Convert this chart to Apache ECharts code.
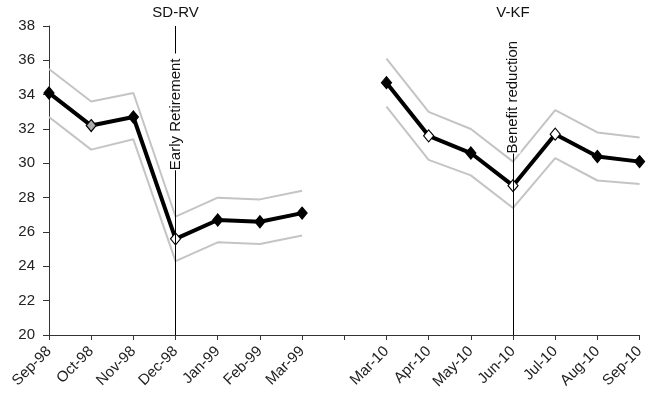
<!DOCTYPE html>
<html><head><meta charset="utf-8">
<script src="https://cdn.jsdelivr.net/npm/echarts@6/dist/echarts.min.js"></script>
<style>html,body{margin:0;padding:0;background:#fff}#c{width:647px;height:400px}</style>
</head><body><div id="c"></div>
<script>
const categories = ['Sep-98','Oct-98','Nov-98','Dec-98','Jan-99','Feb-99','Mar-99','','Mar-10','Apr-10','May-10','Jun-10','Jul-10','Aug-10','Sep-10'];
const mainValues  = [34.1,32.2,32.7,25.6,26.7,26.6,27.1,'-',34.7,31.6,30.6,28.7,31.7,30.4,30.1];
const upperValues = [35.5,33.6,34.1,26.9,28.0,27.9,28.4,'-',36.1,33.0,32.0,30.1,33.1,31.8,31.5];
const lowerValues = [32.7,30.8,31.4,24.3,25.4,25.3,25.8,'-',33.3,30.2,29.3,27.4,30.3,29.0,28.8];
const markerFill  = ['#000','#aaa','#000','#fff','#000','#000','#000',null,'#000','#fff','#000','#fff','#fff','#000','#000'];
const yMin = 20, yMax = 38, yInterval = 2;
// annotations
const eventCats   = ['Dec-98','Jun-10'];
const eventTexts  = ['Early Retirement','Benefit reduction'];
const groupTitles = ['SD-RV','V-KF'];
const eventLineTop = [38, 30.6];
const eventTextY   = [33.0, 34.0];
const titleY = 38;

const FONT = 'Liberation Sans, Arial, sans-serif';
const chart = echarts.init(document.getElementById('c'), null, {renderer:'canvas'});

const mainData = mainValues.map((v,i) => v === '-' ? '-' : {
  value: v,
  itemStyle: {color: markerFill[i], borderColor:'#000', borderWidth:1.2}
});

const markLineData = eventCats.map((c,i) => [
  {coord:[c, yMin]}, {coord:[c, eventLineTop[i]]}
]);
const markPointData = [];
eventCats.forEach((c,i) => {
  markPointData.push({
    coord:[c, eventTextY[i]], symbolSize:0,
    label:{show:true, formatter:eventTexts[i], position:'inside', rotate:90,
      fontSize:15, fontFamily:FONT, color:'#111', backgroundColor:'#fff',
      padding:[0,5,0,0], align:'center', verticalAlign:'middle'}
  });
  markPointData.push({
    coord:[c, titleY], symbolSize:0,
    label:{show:true, formatter:groupTitles[i], position:'top', distance:6,
      fontSize:15, fontFamily:FONT, color:'#111'}
  });
});

const option = {
  animation:false,
  backgroundColor:'#fff',
  grid:{left:49, right:2, top:26, bottom:65, containLabel:false},
  xAxis:{
    type:'category', data:categories, boundaryGap:false,
    axisLine:{lineStyle:{color:'#333', width:1}},
    axisTick:{show:true, length:5, interval:0, lineStyle:{color:'#333'}},
    axisLabel:{rotate:45, interval:0, fontSize:15, fontFamily:FONT, color:'#222', margin:14},
    splitLine:{show:false}
  },
  yAxis:{
    type:'value', min:yMin, max:yMax, interval:yInterval,
    axisLine:{show:true, lineStyle:{color:'#333', width:1}},
    axisTick:{show:true, length:6, lineStyle:{color:'#333'}},
    axisLabel:{fontSize:15, fontFamily:FONT, color:'#222', margin:14},
    splitLine:{show:false}
  },
  series:[
    {type:'line', data:upperValues, symbol:'none', lineStyle:{color:'#c4c4c4', width:2}, z:1,
     markLine:{silent:true, symbol:['none','none'], label:{show:false},
       lineStyle:{color:'#000', width:1, type:'solid'}, data:markLineData},
     markPoint:{silent:true, data:markPointData}
    },
    {type:'line', data:lowerValues, symbol:'none', lineStyle:{color:'#c4c4c4', width:2}, z:1},
    {type:'line', data:mainData, symbol:'diamond', symbolSize:[10,12], showAllSymbol:true,
     lineStyle:{color:'#000', width:4}, itemStyle:{color:'#000'}, z:3}
  ]
};
chart.setOption(option);
</script>
</body></html>
